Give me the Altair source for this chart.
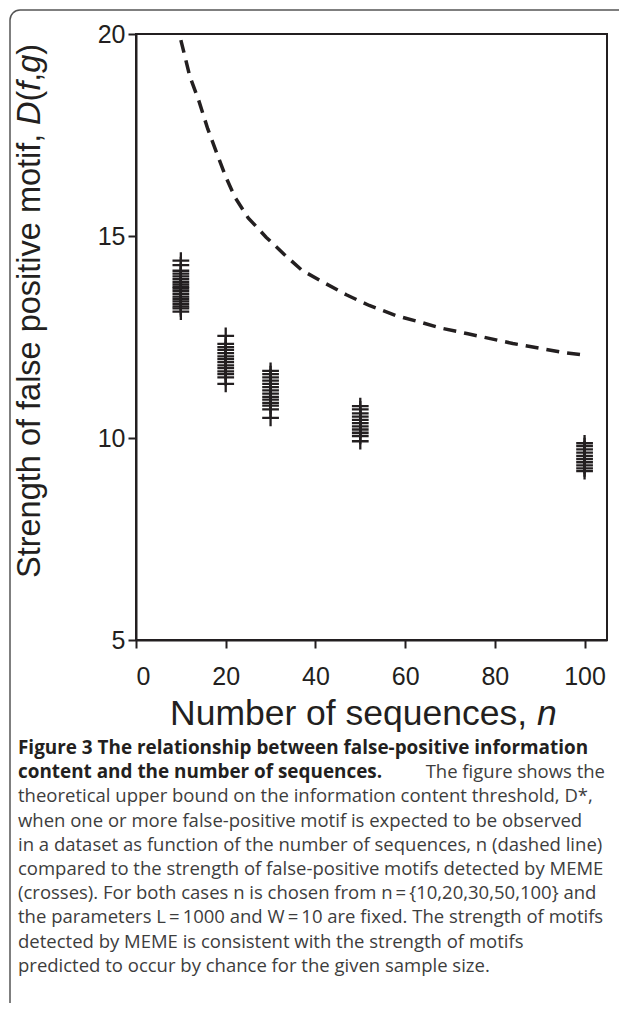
import altair as alt
import pandas as pd

# ---- data ----
curve_n = [10, 12, 14, 16, 18, 20, 22, 25, 29, 33, 37, 42, 47, 52, 58, 63, 68, 74, 79, 84, 90, 95, 100]
curve_d = [19.85, 18.95, 18.35, 17.65, 17.05, 16.47, 15.97, 15.45, 14.97, 14.55, 14.15, 13.84,
           13.54, 13.28, 13.03, 12.88, 12.72, 12.58, 12.46, 12.34, 12.22, 12.12, 12.05]

meme_10 = [14.39, 14.28, 14.14, 14.07, 14.0, 13.93, 13.86, 13.80, 13.74, 13.70, 13.64, 13.57,
           13.50, 13.44, 13.38, 13.32, 13.26, 13.21, 13.13]
meme_20 = [12.53, 12.33, 12.25, 12.18, 12.10, 12.02, 11.95, 11.88, 11.80, 11.73, 11.65, 11.58,
           11.50, 11.34]
meme_30 = [11.66, 11.58, 11.50, 11.42, 11.34, 11.26, 11.18, 11.10, 11.02, 10.95, 10.87, 10.80,
           10.71, 10.50]
meme_50 = [10.79, 10.71, 10.61, 10.53, 10.45, 10.37, 10.29, 10.21, 10.13, 10.05, 9.92]
meme_100 = [9.87, 9.80, 9.72, 9.64, 9.56, 9.48, 9.40, 9.32, 9.25, 9.18]

x_ticks = [0, 20, 40, 60, 80, 100]
y_ticks = [5, 10, 15, 20]

caption_bold = ["Figure 3 The relationship between false-positive information",
                "content and the number of sequences."]
caption_line2_rest = "The figure shows the"
caption_rest = [
    "theoretical upper bound on the information content threshold, D*,",
    "when one or more false-positive motif is expected to be observed",
    "in a dataset as function of the number of sequences, n (dashed line)",
    "compared to the strength of false-positive motifs detected by MEME",
    "(crosses). For both cases n is chosen from n\u2009=\u2009{10,20,30,50,100} and",
    "the parameters L\u2009=\u20091000 and W\u2009=\u200910 are fixed. The strength of motifs",
    "detected by MEME is consistent with the strength of motifs",
    "predicted to occur by chance for the given sample size.",
]

INK = "#231f20"
GREY = "#3d3d3d"

pts = pd.DataFrame({
    "n": [10] * len(meme_10) + [20] * len(meme_20) + [30] * len(meme_30)
         + [50] * len(meme_50) + [100] * len(meme_100),
    "d": meme_10 + meme_20 + meme_30 + meme_50 + meme_100,
})
curve = pd.DataFrame({"n": curve_n, "d": curve_d})

xs = alt.Scale(domain=[0, 105], nice=False, zero=False)
ys = alt.Scale(domain=[5, 20], nice=False, zero=False)

xaxis = alt.Axis(values=x_ticks, title=None, grid=False, tickSize=8, tickWidth=2, domainWidth=2,
                 domainColor=INK, tickColor=INK, labelColor=INK, labelFont="Liberation Sans",
                 labelFontSize=25, labelPadding=16)
yaxis = alt.Axis(values=y_ticks, title=None, grid=False, tickSize=8, tickWidth=2, domainWidth=2,
                 domainColor=INK, tickColor=INK, labelColor=INK, labelFont="Liberation Sans",
                 labelFontSize=25, labelPadding=3)

cross = "M-1,0H1M0,-1V1"

points = alt.Chart(pts).mark_point(shape=cross, filled=False, size=280, strokeWidth=2.3,
                                   color=INK, opacity=1).encode(
    x=alt.X("n:Q", scale=xs, axis=xaxis),
    y=alt.Y("d:Q", scale=ys, axis=yaxis),
)

line = alt.Chart(curve).mark_line(color=INK, strokeWidth=3.5, strokeDash=[13, 8]).encode(
    x=alt.X("n:Q", scale=xs),
    y=alt.Y("d:Q", scale=ys),
)

one = pd.DataFrame({"k": [0]})


def txt(text, x, y, size, font="Liberation Sans", style="normal", weight="normal",
        align="left", angle=0, color=INK, baseline="middle"):
    return alt.Chart(one).mark_text(text=text, font=font, fontSize=size, fontStyle=style,
                                    fontWeight=weight, align=align, baseline=baseline,
                                    angle=angle, color=color).encode(
        x=alt.value(x), y=alt.value(y))


# axis titles (plot origin is at page (136, 34))
XF = 35.5
xt1 = txt("Number of sequences,", 34, 680, XF)
xt2 = txt("n", 401, 680, XF, style="italic")

YF = 32.5
YX = -106
yt = [
    txt("Strength of false positive motif,", YX, 544, YF, angle=270),
    txt("D", YX, 91, YF, angle=270, style="italic"),
    txt("(", YX, 67.5, YF, angle=270),
    txt("f", YX, 56.7, YF, angle=270, style="italic"),
    txt(",", YX, 47.7, YF, angle=270),
    txt("g", YX, 38.7, YF, angle=270, style="italic"),
    txt(")", YX, 20.7, YF, angle=270),
]

CAP_MID = 714
LH = 24.2
CX = -118
caps = []
for i, t in enumerate(caption_bold):
    caps.append(txt(t, CX, CAP_MID + i * LH, 18.9, font="Open Sans", weight="bold"))
caps.append(txt(caption_line2_rest, 469, CAP_MID + LH, 18.5, font="Open Sans", color=GREY,
                align="right"))
for i, t in enumerate(caption_rest):
    caps.append(txt(t, CX, CAP_MID + (i + 2) * LH, 18.5, font="Open Sans", color=GREY))

frame = alt.Chart(one).mark_rect(fillOpacity=0, stroke="#555555", strokeWidth=1.5,
                                 cornerRadius=10).encode(
    x=alt.value(-126), x2=alt.value(520), y=alt.value(-24), y2=alt.value(985))

chart = alt.layer(frame, line, points, xt1, xt2, *yt, *caps).properties(
    width=471, height=606,
    autosize=alt.AutoSizeParams(type="none"),
    padding={"left": 128, "top": 26, "right": 12, "bottom": 363},
).configure_view(stroke=INK, strokeWidth=2)

chart.save("out.html", embed_options={"renderer": "svg", "actions": False})
